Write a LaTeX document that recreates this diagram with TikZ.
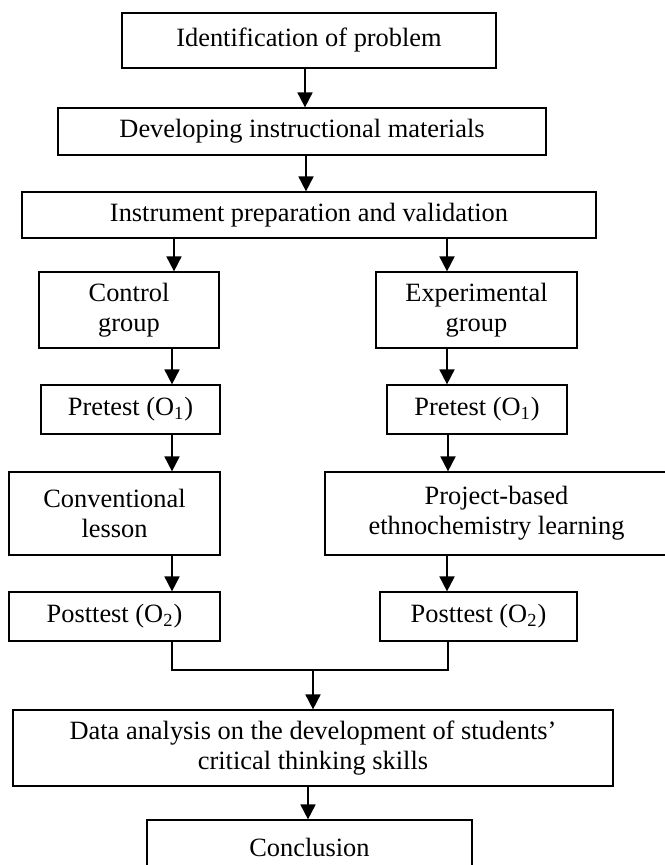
\documentclass[tikz,border=0pt]{standalone}
\usepackage{fontspec}
\setmainfont{Liberation Serif}
\usetikzlibrary{arrows.meta}

\tikzset{
    box/.style={draw, line width=0.6pt, align=center, inner sep=0pt, font=\fontsize{13.2}{15}\selectfont},
    arr/.style={line width=0.9pt, -{Triangle[length=7.5pt,width=7.5pt]}},
    link/.style={line width=0.9pt}
}

\begin{document}
\begin{tikzpicture}[x=0.5pt, y=-0.5pt]

            \useasboundingbox (0,0) rectangle (664,865);

            \node[box, minimum width=187pt, minimum height=27.5pt] (ident) at (309, 40.5) {Identification of problem};
            \node[box, minimum width=244pt, minimum height=23.5pt] (develop) at (302, 131.5) {Developing instructional materials};
            \node[box, minimum width=287pt, minimum height=23pt] (instr) at (309, 215) {Instrument preparation and validation};

            \node[box, minimum width=90pt, minimum height=38pt] (control) at (129, 310) {Control\\group};
            \node[box, minimum width=100.5pt, minimum height=38pt] (exper) at (476.5, 310) {Experimental\\group};

            \node[box, minimum width=89.5pt, minimum height=24.5pt] (preC) at (130.5, 409.5) {Pretest (O\textsubscript{1})};
            \node[box, minimum width=90pt, minimum height=24.5pt] (preE) at (477, 409.5) {Pretest (O\textsubscript{1})};

            \node[box, minimum width=105.5pt, minimum height=41.5pt] (conv) at (114.5, 513.5) {Conventional\\lesson};
            \node[box, minimum width=171.5pt, minimum height=41.5pt] (proj) at (496.5, 513.5) {Project-based\\ethnochemistry learning};

            \node[box, minimum width=105.5pt, minimum height=24.5pt] (postC) at (114.5, 616.5) {Posttest (O\textsubscript{2})};
            \node[box, minimum width=98.5pt, minimum height=24.5pt] (postE) at (478.5, 616.5) {Posttest (O\textsubscript{2})};

            \node[box, minimum width=300pt, minimum height=38pt] (data) at (313, 748) {Data analysis on the development of students’\\critical thinking skills};
            \node[box, minimum width=162.5pt, minimum height=27.5pt] (concl) at (309.5, 847.5) {Conclusion};

            \coordinate (join) at (313, 670);

            \draw[arr] (ident.south -| 305,0) to (develop.north -| 305,0);
            \draw[arr] (develop.south -| 306,0) to (instr.north -| 306,0);
            \draw[arr] (instr.south -| 174,0) to (control.north -| 174,0);
            \draw[arr] (instr.south -| 447,0) to (exper.north -| 447,0);
            \draw[arr] (control.south -| 172,0) to (preC.north -| 172,0);
            \draw[arr] (exper.south -| 447,0) to (preE.north -| 447,0);
            \draw[arr] (preC.south -| 172,0) to (conv.north -| 172,0);
            \draw[arr] (preE.south -| 448,0) to (proj.north -| 448,0);
            \draw[arr] (conv.south -| 172,0) to (postC.north -| 172,0);
            \draw[arr] (proj.south -| 447,0) to (postE.north -| 447,0);
            \draw[link] (postC.south -| 172,0) |- (join) -| (postE.south -| 448,0);
            \draw[arr] (join) to (data.north -| 313,0);
            \draw[arr] (data.south -| 308,0) to (concl.north -| 308,0);
        \end{tikzpicture}
\end{document}
